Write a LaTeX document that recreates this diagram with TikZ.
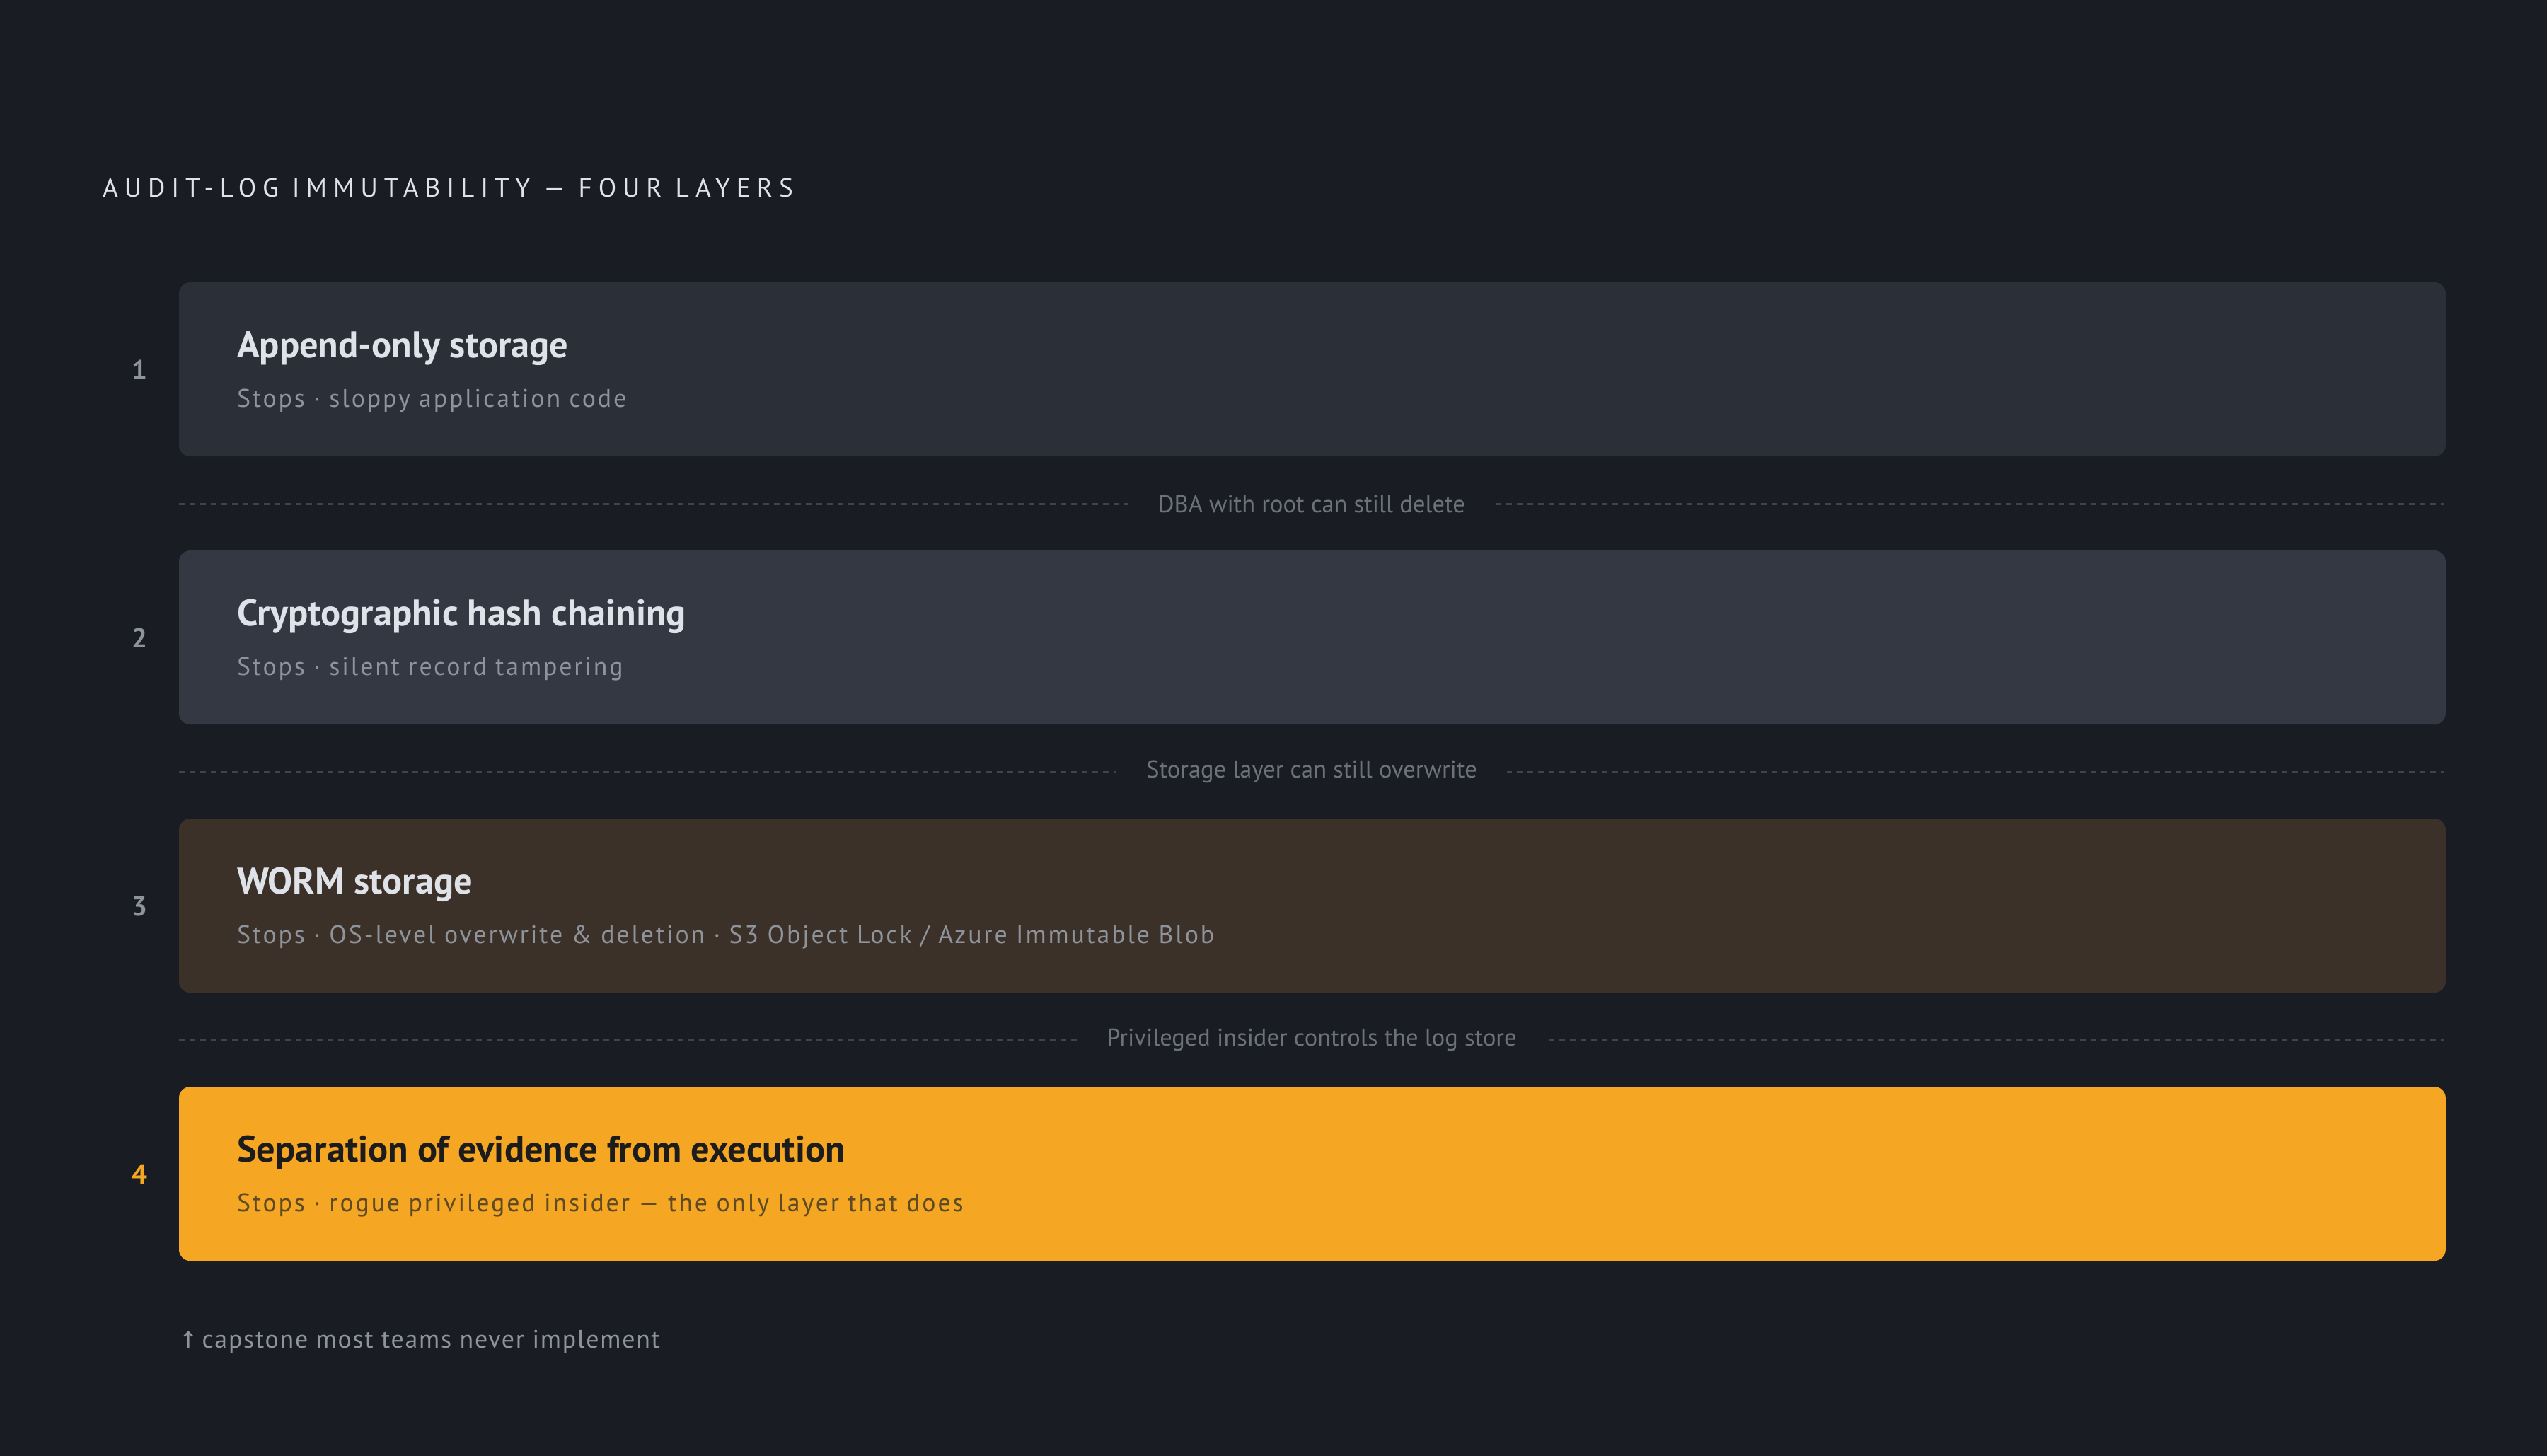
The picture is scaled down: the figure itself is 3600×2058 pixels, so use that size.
\documentclass[tikz,border=0pt]{standalone}
\usepackage{fontspec}
\setmainfont{PT Sans}
\newfontfamily\arrowfont{DejaVu Sans}
\usetikzlibrary{positioning}

\definecolor{bg}{HTML}{1A1C24}
\definecolor{layerA}{HTML}{2B2F38}
\definecolor{layerB}{HTML}{343842}
\definecolor{layerC}{HTML}{3C3129}
\definecolor{layerD}{HTML}{F5A623}
\definecolor{headtext}{HTML}{DFE2E8}
\definecolor{subtext}{HTML}{8E939C}
\definecolor{gaptext}{HTML}{6C717A}
\definecolor{dashgray}{HTML}{3F434D}
\definecolor{darktext}{HTML}{1C1C1C}
\definecolor{darksub}{HTML}{5E4B24}

\begin{document}
\begin{tikzpicture}
    [x=0.01cm, y=-0.01cm,
     every node/.style={inner sep=0pt, outer sep=0pt},
     layer/.style={rounded corners=0.16cm, minimum width=32.02cm, minimum height=2.46cm, anchor=north west},
     heading/.style={font=\bfseries\fontsize{14.9}{18}\selectfont, text=headtext, anchor=base west},
     stops/.style={font=\fontsize{10.2}{12}\selectfont\addfontfeature{LetterSpace=8}, text=subtext, anchor=base west},
     num/.style={font=\bfseries\fontsize{11}{13}\selectfont, text=subtext, anchor=base},
     gaplabel/.style={font=\fontsize{9.8}{12}\selectfont, text=gaptext, fill=bg, inner xsep=0.42cm, inner ysep=0.1cm},
     gapline/.style={draw=dashgray, line width=0.03cm, dash pattern=on 0.08cm off 0.07cm}]

    \fill[bg] (0,0) rectangle (3600,2058);

    \node[anchor=base west, text=headtext, font=\fontsize{10.6}{13}\selectfont\addfontfeature{LetterSpace=24}] (title) at (145,279) {AUDIT-LOG IMMUTABILITY — FOUR LAYERS};

    % the four layers
    \node[layer, fill=layerA] (layer1) at (253,399) {};
    \node[layer, fill=layerB] (layer2) at (253,778) {};
    \node[layer, fill=layerC] (layer3) at (253,1157) {};
    \node[layer, fill=layerD] (layer4) at (253,1536) {};

    \node[num] (num1) at ([shift={(-56,137)}]layer1.north west) {1};
    \node[num] (num2) at ([shift={(-56,137)}]layer2.north west) {2};
    \node[num] (num3) at ([shift={(-56,137)}]layer3.north west) {3};
    \node[num, text=layerD] (num4) at ([shift={(-56,137)}]layer4.north west) {4};

    \node[heading] (head1) at ([shift={(82,106)}]layer1.north west) {Append-only storage};
    \node[stops] (stops1) at ([shift={(82,176)}]layer1.north west) {Stops · sloppy application code};
    \node[heading] (head2) at ([shift={(82,106)}]layer2.north west) {Cryptographic hash chaining};
    \node[stops] (stops2) at ([shift={(82,176)}]layer2.north west) {Stops · silent record tampering};
    \node[heading] (head3) at ([shift={(82,106)}]layer3.north west) {WORM storage};
    \node[stops] (stops3) at ([shift={(82,176)}]layer3.north west) {Stops · OS-level overwrite \& deletion · S3 Object Lock / Azure Immutable Blob};
    \node[heading, text=darktext] (head4) at ([shift={(82,106)}]layer4.north west) {Separation of evidence from execution};
    \node[stops, text=darksub] (stops4) at ([shift={(82,176)}]layer4.north west) {Stops · rogue privileged insider — the only layer that does};

    % gaps between layers
    \coordinate (gap1w) at (253,712);  \coordinate (gap1e) at (3455,712);
    \coordinate (gap2w) at (253,1091); \coordinate (gap2e) at (3455,1091);
    \coordinate (gap3w) at (253,1470); \coordinate (gap3e) at (3455,1470);
    \draw[gapline] (gap1w) -- (gap1e);
    \draw[gapline] (gap2w) -- (gap2e);
    \draw[gapline] (gap3w) -- (gap3e);
    \node[gaplabel] (gap1) at (1854,712) {DBA with root can still delete};
    \node[gaplabel] (gap2) at (1854,1091) {Storage layer can still overwrite};
    \node[gaplabel] (gap3) at (1854,1470) {Privileged insider controls the log store};

    \node[stops, anchor=base west, font=\fontsize{10.2}{12}\selectfont\addfontfeature{LetterSpace=5}] (footer) at ([shift={(0,123)}]layer4.south west) {{\arrowfont\fontsize{9}{12}\selectfont ↑}\,capstone most teams never implement};
\end{tikzpicture}
\end{document}
